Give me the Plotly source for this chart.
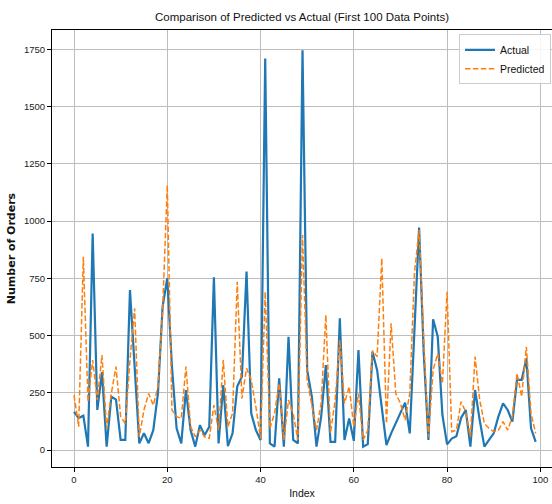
import plotly.graph_objects as go

index = list(range(100))

actual = [167, 140, 150, 15, 945, 175, 340, 15, 233, 220,
          44, 44, 699, 360, 29, 73, 30, 87, 247, 626,
          750, 364, 95, 29, 262, 87, 15, 109, 65, 102,
          754, 29, 284, 17, 73, 277, 320, 779, 160, 87,
          44, 1710, 29, 15, 313, 15, 495, 44, 29, 1745,
          349, 233, 15, 146, 371, 36, 36, 575, 44, 138,
          40, 437, 15, 26, 429, 349, 189, 22, 73, 116,
          160, 207, 73, 560, 972, 422, 44, 571, 495, 153,
          25, 50, 60, 140, 175, 15, 262, 131, 15, 44,
          73, 146, 204, 175, 124, 306, 306, 400, 95, 36]

predicted = [240, 102, 844, 211, 393, 218, 415, 95, 247, 364,
             146, 116, 393, 619, 58, 175, 247, 196, 276, 610,
             1157, 175, 146, 138, 364, 102, 58, 87, 58, 51,
             196, 87, 393, 102, 160, 735, 225, 357, 306, 189,
             51, 691, 95, 160, 291, 44, 218, 160, 44, 939,
             306, 204, 87, 204, 590, 73, 218, 480, 204, 277,
             102, 247, 44, 87, 434, 408, 837, 116, 553, 247,
             204, 131, 247, 771, 961, 480, 58, 349, 422, 291,
             691, 80, 87, 211, 167, 58, 408, 218, 116, 95,
             80, 87, 124, 87, 146, 335, 233, 451, 160, 73]

x_ticks = [0, 20, 40, 60, 80, 100]
y_ticks = [0, 250, 500, 750, 1000, 1250, 1500, 1750]

FONT = "Liberation Sans, Arial, sans-serif"

fig = go.Figure()
fig.add_trace(go.Scatter(x=index, y=actual, mode="lines", name="Actual",
                         line=dict(color="#1f77b4", width=2.2)))
fig.add_trace(go.Scatter(x=index, y=predicted, mode="lines", name="Predicted",
                         line=dict(color="#ff7f0e", width=1.5, dash="5.5px,2.4px")))

fig.update_layout(
    width=552, height=504,
    margin=dict(l=52, r=0, t=30, b=37),
    paper_bgcolor="white", plot_bgcolor="white",
    font=dict(family=FONT, size=10, color="#222"),
    title=dict(text="Comparison of Predicted vs Actual (First 100 Data Points)",
               x=0.5, xref="paper", xanchor="center", y=0.966, yanchor="middle",
               font=dict(family=FONT, size=11.5, color="#111")),
    legend=dict(x=0.998, xanchor="right", y=0.99, yanchor="top",
                bgcolor="rgba(255,255,255,0.85)", bordercolor="#cccccc", borderwidth=1,
                itemwidth=30, font=dict(family=FONT, size=10.5, color="#111"),
                tracegroupgap=2),
    showlegend=True,
)

fig.update_xaxes(
    range=[-4.72, 102.5], tickvals=x_ticks, ticks="outside", ticklen=4,
    tickcolor="black", showline=True, linecolor="black", linewidth=1, mirror=True,
    showgrid=True, gridcolor="#bdbdbd", gridwidth=0.8, zeroline=False,
    automargin=False,
    title=dict(text="Index", standoff=5, font=dict(family=FONT, size=10.5, color="#111")),
    tickfont=dict(family=FONT, size=9.5, color="#222"),
)
fig.update_yaxes(
    range=[-74, 1834], tickvals=y_ticks, ticks="outside", ticklen=4,
    tickcolor="black", showline=True, linecolor="black", linewidth=1, mirror=False,
    showgrid=True, gridcolor="#bdbdbd", gridwidth=0.8, zeroline=False,
    automargin=False,
    title=dict(text="<b>Number of Orders</b>", standoff=6,
               font=dict(family="DejaVu Sans, sans-serif", size=11, color="#111")),
    tickfont=dict(family=FONT, size=9.5, color="#222"),
)

fig.write_html("out.html",
               config={"displayModeBar": False},
               post_script="document.body.style.margin='0px';document.body.style.overflow='hidden';")
